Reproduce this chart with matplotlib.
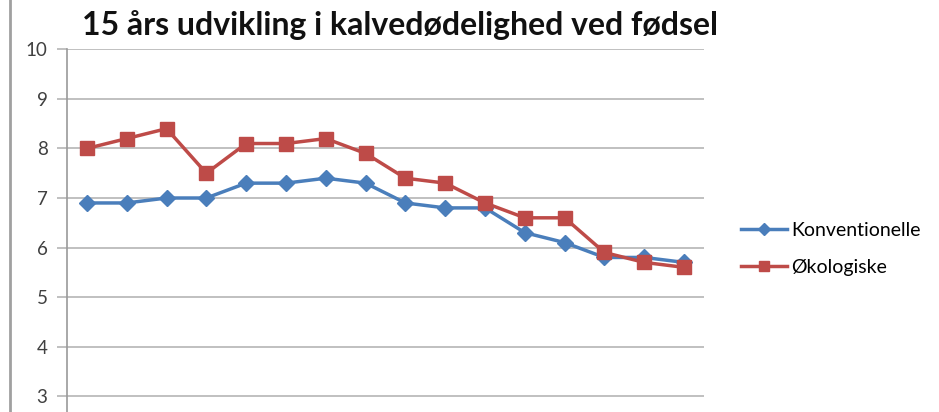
import matplotlib
matplotlib.use("Agg")
import matplotlib.pyplot as plt
from matplotlib.lines import Line2D

# 15 years, one point per year
years = list(range(16))
konventionelle = [6.9, 6.9, 7.0, 7.0, 7.3, 7.3, 7.4, 7.3, 6.9, 6.8, 6.8, 6.3, 6.1, 5.8, 5.8, 5.7]
okologiske = [8.0, 8.2, 8.4, 7.5, 8.1, 8.1, 8.2, 7.9, 7.4, 7.3, 6.9, 6.6, 6.6, 5.9, 5.7, 5.6]
y_ticks = [3, 4, 5, 6, 7, 8, 9, 10]

title = "15 års udvikling i kalvedødelighed ved fødsel"
labels = ["Konventionelle", "Økologiske"]

plt.rcParams['font.family'] = ['Lato', 'DejaVu Sans']

fig = plt.figure(figsize=(9.39, 4.12), dpi=100)
ax = fig.add_axes([67 / 939, 0.0, 637 / 939, 1 - 49.4 / 412])

ax.plot(years, konventionelle, color='#4a7ebb', lw=2.5, marker='D', ms=8,
        label=labels[0], zorder=3)
ax.plot(years, okologiske, color='#be4b48', lw=2.5, marker='s', ms=10,
        label=labels[1], zorder=4)

ax.set_xlim(-0.5, 15.5)
ax.set_ylim(2.68, 10)
ax.set_yticks(y_ticks)
ax.set_xticks([])
ax.grid(axis='y', color='#b5b5b5', lw=1.2)
ax.set_axisbelow(True)
for s in ['top', 'right', 'bottom']:
    ax.spines[s].set_visible(False)
ax.spines['left'].set_color('#9a9a9a')
ax.spines['left'].set_linewidth(1.2)
ax.tick_params(axis='y', length=7, color='#b5b5b5', width=1.2,
               labelsize=13.5, labelcolor='#404040', pad=7)

fig.text(82 / 939, 1 - 25 / 412, title, fontsize=23, fontweight='bold',
         va='center', ha='left', color='#111111')

# page border line at the far left
fig.add_artist(Line2D([10 / 939, 10 / 939], [0, 1], color='#a0a0a0', lw=2,
                      transform=fig.transFigure))

ax.legend(loc='center left', bbox_to_anchor=(1.03, 0.45), frameon=False,
          fontsize=14, handlelength=2.4, handletextpad=0.2, labelspacing=1.05,
          markerscale=0.75)

fig.savefig('out.png', dpi=100)
